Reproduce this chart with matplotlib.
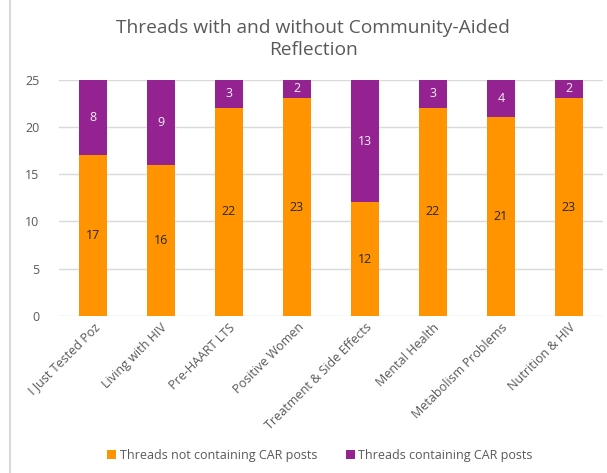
import numpy as np
import matplotlib.pyplot as plt
from matplotlib.lines import Line2D

categories = ['I Just Tested Poz', 'Living with HIV', 'Pre-HAART LTS', 'Positive Women',
              'Treatment & Side Effects', 'Mental Health', 'Metabolism Problems', 'Nutrition & HIV']
not_car = [17, 16, 22, 23, 12, 22, 21, 23]
with_car = [8, 9, 3, 2, 13, 3, 4, 2]

orange = '#FF9300'
purple = '#952291'
gray = '#595959'

plt.rcParams['font.family'] = ['Open Sans', 'DejaVu Sans']

fig = plt.figure(figsize=(6.07, 4.73), dpi=100)
ax = fig.add_axes([0.0972, 0.3319, 0.8962, 0.5])

x = np.arange(len(categories))
b1 = ax.bar(x, not_car, width=0.4, color=orange, label='Threads not containing CAR posts', zorder=3)
b2 = ax.bar(x, with_car, width=0.4, bottom=not_car, color=purple, label='Threads containing CAR posts', zorder=3)

ax.bar_label(b1, label_type='center', color='#262626', fontsize=9)
ax.bar_label(b2, label_type='center', color='#F2F2F2', fontsize=9)

ax.set_xlim(-0.5, 7.5)
ax.set_ylim(0, 25)
ax.set_yticks(range(0, 26, 5))
ax.grid(axis='y', color='#D9D9D9', linewidth=1, zorder=0)
for s in ax.spines.values():
    s.set_visible(False)
ax.tick_params(axis='both', length=0, colors=gray, labelsize=9)
ax.tick_params(axis='y', pad=14)
ax.set_xticks(x)
ax.set_xticklabels(categories, rotation=45, ha='right', rotation_mode='anchor')

fig.text(0.516, 0.918, 'Threads with and without Community-Aided\nReflection',
         ha='center', va='center', fontsize=13.8, color=gray, linespacing=1.25)

fig.legend(handles=[b1, b2], loc='center', bbox_to_anchor=(0.527, 0.038), ncol=2,
           frameon=False, fontsize=9, handlelength=0.7, handleheight=0.7,
           handletextpad=0.3, columnspacing=2.3, labelcolor=gray)

fig.add_artist(Line2D([10 / 607, 10 / 607], [0, 1], color='#D9D9D9', linewidth=1.5))

fig.savefig('out.png', dpi=100)
